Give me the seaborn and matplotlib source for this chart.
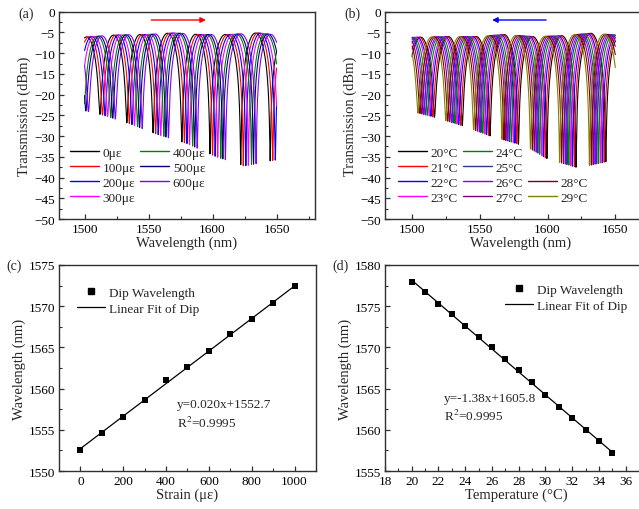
import numpy as np
import matplotlib
matplotlib.use('Agg')
import matplotlib.pyplot as plt
import seaborn as sns
from matplotlib.ticker import MultipleLocator, AutoMinorLocator
from matplotlib.lines import Line2D

# ---- data ----
strain = [0, 100, 200, 300, 400, 500, 600, 700, 800, 900, 1000]
strain_dip = [1552.6, 1554.6, 1556.6, 1558.6, 1561.0, 1562.6, 1564.6, 1566.6, 1568.4, 1570.4, 1572.4]

temp = [20, 21, 22, 23, 24, 25, 26, 27, 28, 29, 30, 31, 32, 33, 34, 35]
temp_dip = [1577.9, 1576.7, 1575.3, 1574.1, 1572.6, 1571.2, 1570.0, 1568.6,
            1567.2, 1565.8, 1564.2, 1562.8, 1561.4, 1560.0, 1558.6, 1557.2]

# spectra (a): strain series
a_labels = ['0\u03bc\u03b5', '100\u03bc\u03b5', '200\u03bc\u03b5', '300\u03bc\u03b5',
            '400\u03bc\u03b5', '500\u03bc\u03b5', '600\u03bc\u03b5']
a_colors = ['black', 'red', 'blue', 'magenta', '#008000', '#000080', '#8000ff']
a_dips_0 = [1512.0, 1533.0, 1553.5, 1576.0, 1598.0, 1622.0, 1645.0]
a_env_wl = [1495, 1515, 1535, 1556, 1580, 1603, 1625, 1648, 1665]
a_env_dip = [-23.5, -25.0, -27.0, -29.5, -31.8, -35.0, -37.2, -35.8, -35.5]
a_pk_wl = [1495, 1525, 1548, 1570, 1590, 1612, 1636, 1660]
a_pk = [-6.2, -5.6, -5.5, -5.1, -5.5, -5.5, -5.1, -6.0]

# spectra (b): temperature series
b_labels = ['20\u00b0C', '21\u00b0C', '22\u00b0C', '23\u00b0C', '24\u00b0C',
            '25\u00b0C', '26\u00b0C', '27\u00b0C', '28\u00b0C', '29\u00b0C']
b_colors = ['black', 'red', 'blue', 'magenta', '#008000', '#2a3a8a',
            '#8000ff', '#800080', '#800000', '#808000']
b_dips_0 = [1516.5, 1537.0, 1557.5, 1578.5, 1599.5, 1621.0, 1643.0]
b_env_wl = [1490, 1505, 1517, 1537, 1558, 1579, 1587, 1600, 1621, 1632, 1643, 1660]
b_env_dip = [-24.0, -24.5, -25.5, -27.5, -30.0, -32.0, -33.0, -35.5, -37.5, -37.0, -36.2, -36.0]
b_pk_wl = [1495, 1525, 1547, 1568, 1590, 1610, 1632, 1660]
b_pk = [-6.2, -6.0, -6.0, -5.5, -6.0, -5.8, -5.2, -5.8]

wl = np.linspace(1500, 1650, 3001)


def spectrum(dips, env_wl, env_dip, pk_wl, pk):
    d = np.asarray(dips)
    p0, p1 = d[1] - d[0], d[-1] - d[-2]
    d_ext = np.r_[d[0] - 2 * p0, d[0] - p0, d, d[-1] + p1, d[-1] + 2 * p1]
    phase = np.interp(wl, d_ext, np.arange(len(d_ext)))
    peak = np.interp(wl, pk_wl, pk)
    dip = np.interp(wl, env_wl, env_dip)
    floor = 10 ** ((dip - peak) / 10)
    return peak + 10 * np.log10(1 - (1 - floor) * np.cos(np.pi * phase) ** 2)


sns.set_theme(style='ticks')
plt.rcParams['font.family'] = ['Liberation Serif', 'DejaVu Serif']
plt.rcParams['mathtext.fontset'] = 'stix'
plt.rcParams['xtick.direction'] = 'in'
plt.rcParams['ytick.direction'] = 'in'
plt.rcParams['xtick.labelsize'] = 9.5
plt.rcParams['ytick.labelsize'] = 9.5
plt.rcParams['axes.labelsize'] = 10.5
plt.rcParams['axes.edgecolor'] = '#303030'
plt.rcParams['axes.linewidth'] = 1.0

fig = plt.figure(figsize=(6.39, 5.10), dpi=100)
ax_a = fig.add_axes([0.0923, 0.5686, 0.4006, 0.4065])
ax_b = fig.add_axes([0.6025, 0.5686, 0.424, 0.4065])
ax_c = fig.add_axes([0.0923, 0.0745, 0.4022, 0.404])
ax_d = fig.add_axes([0.6025, 0.0745, 0.410, 0.404])


def style(ax, major_x, major_y):
    ax.xaxis.set_major_locator(MultipleLocator(major_x))
    ax.yaxis.set_major_locator(MultipleLocator(major_y))
    ax.xaxis.set_minor_locator(AutoMinorLocator(2))
    ax.yaxis.set_minor_locator(AutoMinorLocator(2))
    ax.tick_params(which='major', length=3.5, width=0.9, pad=3, colors='#303030', labelcolor='black')
    ax.tick_params(which='minor', length=2, width=0.8, colors='#303030')
    ax.tick_params(top=False, right=False, which='both')
    ax.xaxis.labelpad = 0.5
    ax.yaxis.labelpad = 2


# (a)
for k in range(len(a_labels)):
    shift = strain_dip[k] - strain_dip[0]
    t = spectrum([d + shift for d in a_dips_0], a_env_wl, a_env_dip, a_pk_wl, a_pk)
    sns.lineplot(x=wl, y=t, color=a_colors[k], linewidth=0.8, ax=ax_a,
                 estimator=None, sort=False)
ax_a.set_xlim(1480, 1680)
ax_a.set_ylim(-50, 0)
style(ax_a, 50, 5)
ax_a.set_xlabel('Wavelength (nm)')
ax_a.set_ylabel('Transmission (dBm)')
ax_a.annotate('', xy=(1597, -2), xytext=(1550, -2),
              arrowprops=dict(arrowstyle='-|>', color='red', lw=1.0, mutation_scale=8))
h_a = [Line2D([], [], color=c, lw=1.0) for c in a_colors]
ax_a.legend(h_a, a_labels, ncol=2, frameon=False, loc='upper left',
            bbox_to_anchor=(0.043, 0.35), borderpad=0, borderaxespad=0,
            handlelength=2.2, handletextpad=0.25, columnspacing=0.4,
            labelspacing=0.22, fontsize=9.5)

# (b)
for k in range(len(b_labels)):
    shift = temp_dip[k] - temp_dip[0]
    t = spectrum([d + shift for d in b_dips_0], b_env_wl, b_env_dip, b_pk_wl, b_pk)
    sns.lineplot(x=wl, y=t, color=b_colors[k], linewidth=0.8, ax=ax_b,
                 estimator=None, sort=False)
ax_b.set_xlim(1480, 1680)
ax_b.set_ylim(-50, 0)
style(ax_b, 50, 5)
ax_b.set_xlabel('Wavelength (nm)')
ax_b.set_ylabel('Transmission (dBm)')
ax_b.annotate('', xy=(1557, -2), xytext=(1601, -2),
              arrowprops=dict(arrowstyle='-|>', color='blue', lw=1.0, mutation_scale=8))
h_b = [Line2D([], [], color=c, lw=1.0) for c in b_colors]
blank = Line2D([], [], linestyle='none')
handles_b = h_b[:8] + [blank, blank] + h_b[8:]
labels_b = b_labels[:8] + ['', ''] + b_labels[8:]
ax_b.legend(handles_b, labels_b, ncol=3, frameon=False, loc='upper left',
            bbox_to_anchor=(0.048, 0.35), borderpad=0, borderaxespad=0,
            handlelength=2.2, handletextpad=0.25, columnspacing=0.4,
            labelspacing=0.22, fontsize=9.5)

# (c)
fit_c = np.polyfit(strain, strain_dip, 1)
sns.lineplot(x=strain, y=np.polyval(fit_c, strain), color='black', linewidth=0.9, ax=ax_c)
sns.scatterplot(x=strain, y=strain_dip, marker='s', color='black', s=22,
                edgecolor='black', linewidth=0, ax=ax_c, zorder=3)
ax_c.set_xlim(-100, 1100)
ax_c.set_ylim(1550, 1575)
style(ax_c, 200, 5)
ax_c.set_xlabel('Strain (\u03bc\u03b5)')
ax_c.set_ylabel('Wavelength (nm)')
ax_c.text(450, 1558.1, 'y=0.020x+1552.7', fontsize=9.5, va='center')
ax_c.text(450, 1555.9, 'R$^2$=0.9995', fontsize=9.5, va='center')
h_c = [Line2D([], [], marker='s', color='black', linestyle='none', markersize=4.5),
       Line2D([], [], color='black', lw=0.9)]
ax_c.legend(h_c, ['Dip Wavelength', 'Linear Fit of Dip'], frameon=False, loc='upper left',
            bbox_to_anchor=(0.07, 0.895), borderpad=0, borderaxespad=0,
            handlelength=2.1, handletextpad=0.35, labelspacing=0.3, fontsize=9.5)

# (d)
fit_d = np.polyfit(temp, temp_dip, 1)
sns.lineplot(x=temp, y=np.polyval(fit_d, temp), color='black', linewidth=0.9, ax=ax_d)
sns.scatterplot(x=temp, y=temp_dip, marker='s', color='black', s=22,
                edgecolor='black', linewidth=0, ax=ax_d, zorder=3)
ax_d.set_xlim(18, 37.6)
ax_d.set_ylim(1555, 1580)
style(ax_d, 2, 5)
ax_d.set_xlabel('Temperature (\u00b0C)')
ax_d.set_ylabel('Wavelength (nm)')
ax_d.text(22.4, 1563.8, 'y=-1.38x+1605.8', fontsize=9.5, va='center')
ax_d.text(22.4, 1561.7, 'R$^2$=0.9995', fontsize=9.5, va='center')
h_d = [Line2D([], [], marker='s', color='black', linestyle='none', markersize=4.5),
       Line2D([], [], color='black', lw=0.9)]
ax_d.legend(h_d, ['Dip Wavelength', 'Linear Fit of Dip'], frameon=False, loc='upper left',
            bbox_to_anchor=(0.458, 0.91), borderpad=0, borderaxespad=0,
            handlelength=2.1, handletextpad=0.35, labelspacing=0.3, fontsize=9.5)

# panel letters
fig.text(18 / 639, 1 - 14 / 510, '(a)', fontsize=10, va='center', ha='left')
fig.text(344 / 639, 1 - 14 / 510, '(b)', fontsize=10, va='center', ha='left')
fig.text(6 / 639, 1 - 266 / 510, '(c)', fontsize=10, va='center', ha='left')
fig.text(332 / 639, 1 - 266 / 510, '(d)', fontsize=10, va='center', ha='left')

fig.savefig('out.png', dpi=100)
